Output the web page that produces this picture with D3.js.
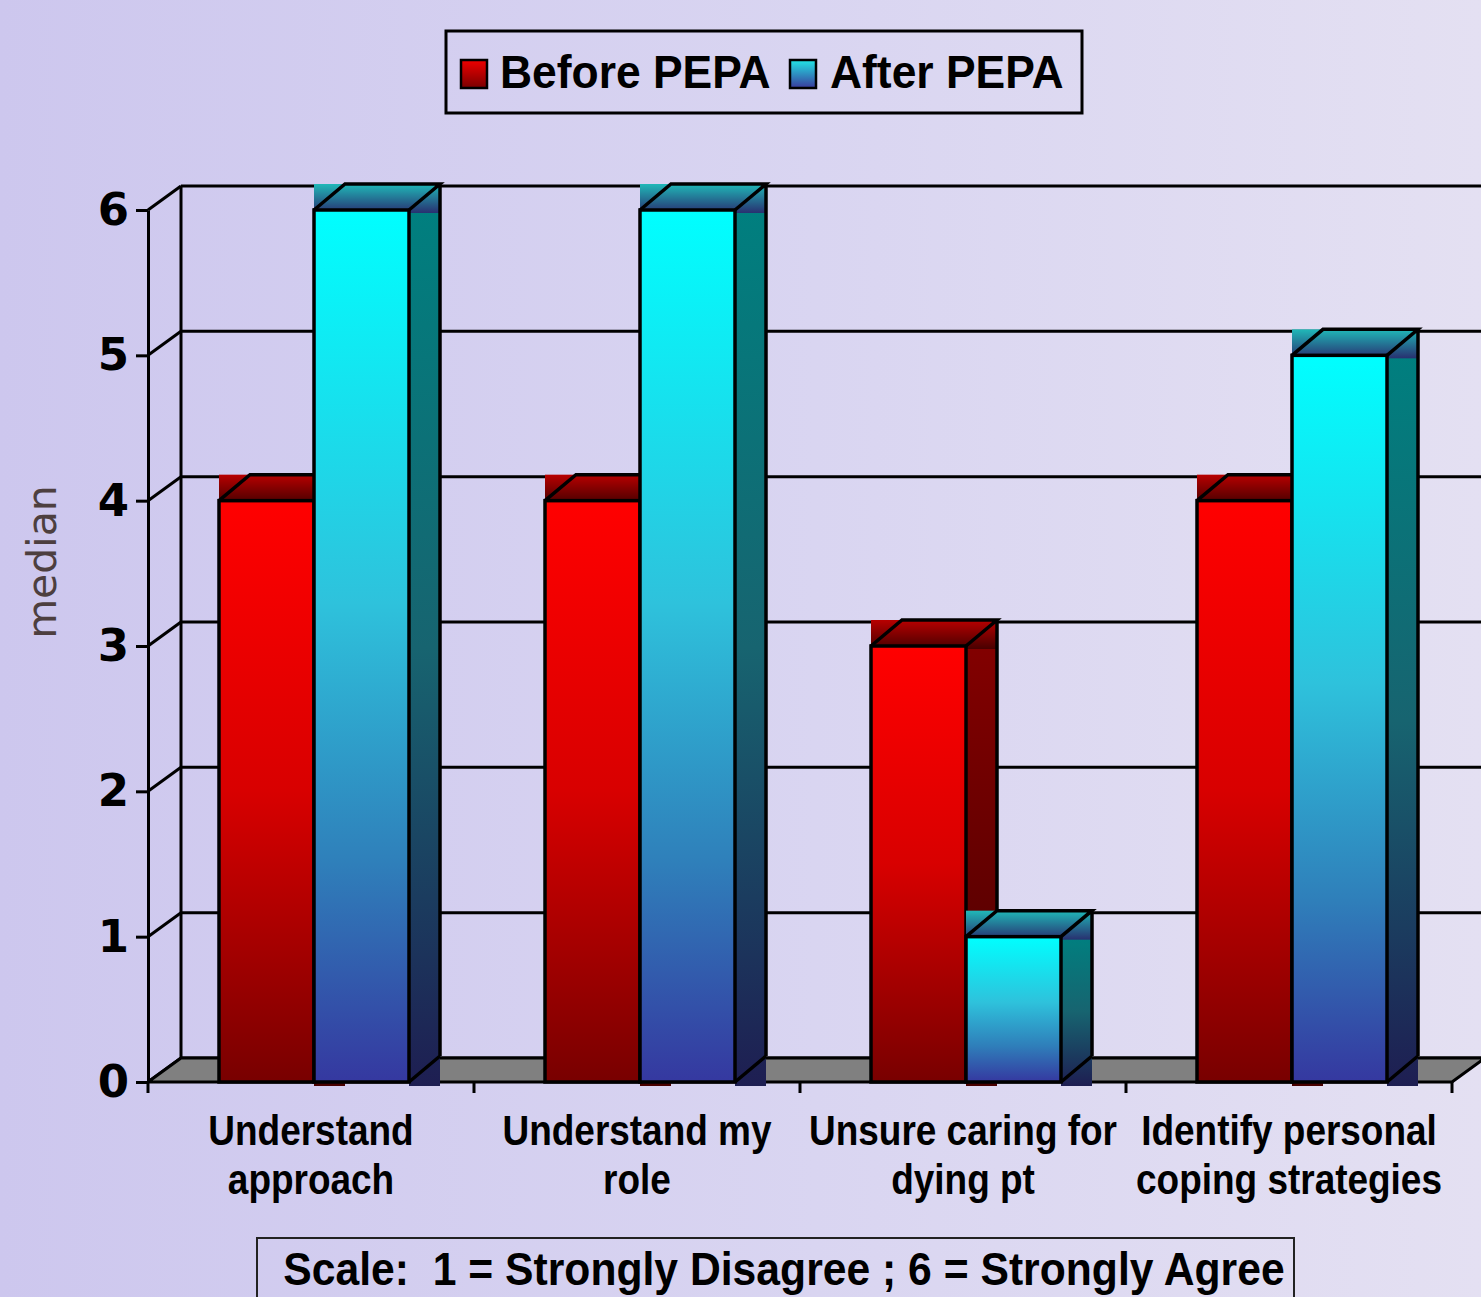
<!DOCTYPE html>
<html>
<head>
<meta charset="utf-8">
<script src="https://cdn.jsdelivr.net/npm/d3@7"></script>
<style>
  body { margin: 0; overflow: hidden; }
  text { white-space: pre; }
</style>
</head>
<body>
<div id="chart"></div>
<script>
// data
var categories = ["Understand approach", "Understand my role", "Unsure caring for dying pt", "Identify personal coping strategies"];
var categoryLines = [["Understand", "approach"], ["Understand my", "role"], ["Unsure caring for", "dying pt"], ["Identify personal", "coping strategies"]];
var series = ["Before PEPA", "After PEPA"];
var before = [4, 4, 3, 4];
var after = [6, 6, 1, 5];
var yTicks = [0, 1, 2, 3, 4, 5, 6];
var yLabel = "median";
var scaleNote = "Scale:  1 = Strongly Disagree ; 6 = Strongly Agree";

var W = 1481, H = 1297;
var armFont = "'Liberation Sans', Arial, sans-serif";
var verFont = "'DejaVu Sans', Verdana, sans-serif";

var svg = d3.select("#chart").append("svg")
    .attr("width", W)
    .attr("height", H);

var defs = svg.append("defs");

// vertical gradient helper
function grad(id, stops, horiz) {
    var g = defs.append("linearGradient").attr("id", id)
        .attr("x1", 0).attr("y1", 0)
        .attr("x2", horiz ? 1 : 0).attr("y2", horiz ? 0 : 1);
    stops.forEach(function(s) {
        g.append("stop").attr("offset", s[0]).attr("stop-color", s[1]);
    });
}
grad("bg", [[0, "#cdc7ee"], [0.55, "#d9d5f1"], [1, "#e4e0f2"]], true);
grad("redFront", [[0, "#ff0000"], [0.5, "#d80000"], [1, "#780000"]]);
grad("redSide", [[0, "#820000"], [1, "#480000"]]);
grad("redTop", [[0, "#b80000"], [1, "#480000"]]);
grad("cyanFront", [[0, "#00ffff"], [0.45, "#2ec2dc"], [0.75, "#2f7fba"], [1, "#3538a0"]]);
grad("cyanSide", [[0, "#007f7f"], [0.5, "#176470"], [1, "#1e1e52"]]);
grad("cyanTop", [[0, "#20b8b8"], [1, "#283070"]]);
grad("redKey", [[0, "#f00000"], [1, "#7a0000"]]);
grad("cyanKey", [[0, "#22e6e6"], [1, "#3a3a9c"]]);

var fills = {
    "Before PEPA": { front: "url(#redFront)", side: "url(#redSide)", top: "url(#redTop)", key: "url(#redKey)" },
    "After PEPA": { front: "url(#cyanFront)", side: "url(#cyanSide)", top: "url(#cyanTop)", key: "url(#cyanKey)" }
};

svg.append("rect").attr("width", W).attr("height", H).attr("fill", "url(#bg)");

// scales
var x = d3.scaleBand().domain(categories).range([148, 1452]);
var xs = d3.scaleBand().domain(series).range([71, 261]);
var y = d3.scaleLinear().domain([0, 6]).range([1082, 210]);

var wdx = 33, wdy = -24;   // wall depth
var bdx = 31, bdy = -26;   // bar depth
var x0 = x.range()[0], x1 = x.range()[1];

// back wall gridlines
svg.append("g").selectAll("line")
    .data(yTicks)
    .enter().append("line")
    .attr("x1", x0 + wdx).attr("x2", W + 5)
    .attr("y1", function(d) { return y(d) + wdy; })
    .attr("y2", function(d) { return y(d) + wdy; })
    .attr("stroke", "#000").attr("stroke-width", 3);

// left wall
svg.append("line")
    .attr("x1", x0 + wdx).attr("x2", x0 + wdx)
    .attr("y1", y(6) + wdy).attr("y2", y(0) + wdy)
    .attr("stroke", "#000").attr("stroke-width", 3);
svg.append("g").selectAll("line")
    .data(yTicks)
    .enter().append("line")
    .attr("x1", x0).attr("x2", x0 + wdx)
    .attr("y1", function(d) { return y(d); })
    .attr("y2", function(d) { return y(d) + wdy; })
    .attr("stroke", "#000").attr("stroke-width", 3);

// floor
svg.append("path")
    .attr("d", "M" + x0 + "," + y(0) + "L" + (x0 + wdx) + "," + (y(0) + wdy) +
        "L" + (x1 + wdx) + "," + (y(0) + wdy) + "L" + x1 + "," + y(0) + "Z")
    .attr("fill", "#808080")
    .attr("stroke", "#000").attr("stroke-width", 3);

// bars, drawn back to front inside each category
var bars = [];
categories.forEach(function(c, i) {
    bars.push({ c: c, s: series[0], v: before[i] });
    bars.push({ c: c, s: series[1], v: after[i] });
});

var yb = y(0);
bars.forEach(function(d) {
    var bx = x(d.c) + xs(d.s), w = xs.bandwidth(), yt = y(d.v);
    var g = svg.append("g");
    // side face
    g.append("rect")
        .attr("x", bx + w).attr("y", yt)
        .attr("width", bdx).attr("height", yb - yt + 4)
        .attr("fill", fills[d.s].side);
    // top face
    g.append("rect")
        .attr("x", bx).attr("y", yt + bdy)
        .attr("width", w + bdx).attr("height", -bdy + 3)
        .attr("fill", fills[d.s].top);
    // front face
    g.append("rect")
        .attr("x", bx).attr("y", yt)
        .attr("width", w).attr("height", yb - yt)
        .attr("fill", fills[d.s].front)
        .attr("stroke", "#000").attr("stroke-width", 3.5);
    // edges
    g.append("path")
        .attr("d", "M" + bx + "," + yt + "L" + (bx + bdx) + "," + (yt + bdy) +
            "L" + (bx + w + bdx) + "," + (yt + bdy) + "L" + (bx + w) + "," + yt +
            "M" + (bx + w + bdx) + "," + (yt + bdy) + "L" + (bx + w + bdx) + "," + (yb + bdy) +
            "M" + (bx + w) + "," + yb + "L" + (bx + w + bdx) + "," + (yb + bdy))
        .attr("fill", "none")
        .attr("stroke", "#000").attr("stroke-width", 3.5);
});

// front y axis
var yAxis = svg.append("g")
    .attr("transform", "translate(" + x0 + ",0)")
    .call(d3.axisLeft(y).tickValues(yTicks).tickFormat(d3.format("d"))
        .tickSize(12).tickSizeOuter(0).tickPadding(7));
yAxis.select(".domain").attr("stroke-width", 3);
yAxis.selectAll(".tick line").attr("stroke-width", 3);
yAxis.selectAll(".tick text")
    .attr("font-family", verFont)
    .attr("font-weight", "bold")
    .attr("font-size", 45)
    .attr("fill", "#000");

// category boundary ticks
var edges = categories.map(function(c) { return x(c); }).concat([x1]);
svg.append("g").selectAll("line")
    .data(edges)
    .enter().append("line")
    .attr("x1", function(d) { return d; }).attr("x2", function(d) { return d; })
    .attr("y1", yb).attr("y2", yb + 11)
    .attr("stroke", "#000").attr("stroke-width", 3);

// text helper (narrowed Arial look)
function label(txt, tx, ty, size, anchor, sx) {
    svg.append("text")
        .attr("transform", "translate(" + tx + "," + ty + ") scale(" + sx + ",1)")
        .attr("text-anchor", anchor)
        .attr("font-family", armFont)
        .attr("font-weight", "bold")
        .attr("font-size", size)
        .attr("fill", "#000")
        .text(txt);
}

// category labels
categories.forEach(function(c, i) {
    var cx = x(c) + x.bandwidth() / 2;
    label(categoryLines[i][0], cx, 1145, 42, "middle", 0.88);
    label(categoryLines[i][1], cx, 1194, 42, "middle", 0.88);
});

// y label
svg.append("text")
    .attr("transform", "translate(56,562) rotate(-90)")
    .attr("text-anchor", "middle")
    .attr("font-family", verFont)
    .attr("font-size", 41)
    .attr("fill", "#4d3f3f")
    .text(yLabel);

// legend
var lg = svg.append("g");
lg.append("rect")
    .attr("x", 446).attr("y", 31)
    .attr("width", 636).attr("height", 82)
    .attr("fill", "none")
    .attr("stroke", "#000").attr("stroke-width", 3);
var keyX = [461, 790], textX = [500, 830];
series.forEach(function(s, i) {
    lg.append("rect")
        .attr("x", keyX[i]).attr("y", 60)
        .attr("width", 26).attr("height", 28)
        .attr("fill", fills[s].key)
        .attr("stroke", "#000").attr("stroke-width", 2.5);
    label(s, textX[i], 88, 47, "start", 0.945);
});

// scale note
svg.append("rect")
    .attr("x", 257).attr("y", 1238)
    .attr("width", 1037).attr("height", 80)
    .attr("fill", "none")
    .attr("stroke", "#222").attr("stroke-width", 2);
label(scaleNote, 784, 1285, 47, "middle", 0.908);
</script>
</body>
</html>
